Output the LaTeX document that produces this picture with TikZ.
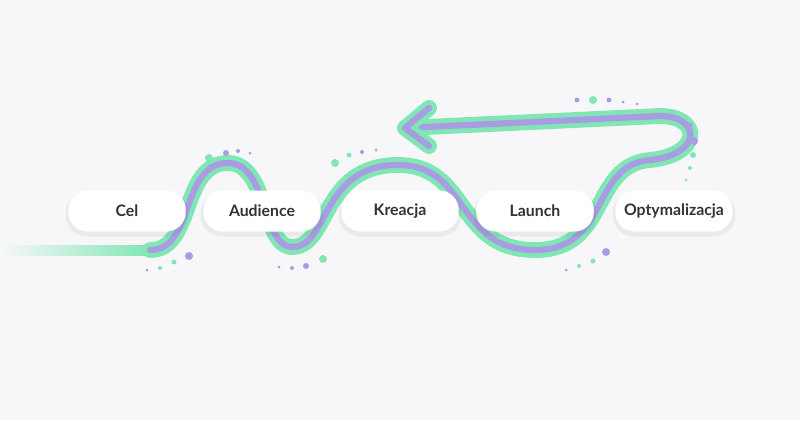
\documentclass[tikz,border=0pt]{standalone}
\usepackage{fontspec}
\setmainfont{Lato}
\definecolor{mint}{HTML}{7FE6B4}
\definecolor{lav}{HTML}{A89CE2}
\definecolor{bgc}{HTML}{F7F7FA}
\begin{document}
\begin{tikzpicture}[x=0.02cm, y=-0.02cm]
  \tikzset{
    step pill/.style={rounded corners=11pt, fill=white, minimum width=2.35cm, minimum height=0.82cm,
      font=\small\bfseries, text=black!80},
    pill shade/.style={rounded corners=12pt, fill=black, opacity=0.05, minimum width=2.45cm, minimum height=0.9cm},
    dotm/.style={fill=mint, draw=none},
    dotl/.style={fill=lav, draw=none}
  }
  \useasboundingbox (0,0) rectangle (800,420);
  \fill[bgc] (0,0) rectangle (800,420);
  \coordinate (start) at (0,250);
  \coordinate (tip) at (405,128);
  % fading lead-in
  \shade[left color=bgc, right color=mint] (0,245) rectangle (152,255);
  \def\wave{(150,250) .. controls (195,250) and (180,163) .. (228,163) .. controls (268,163) and (262,247) .. (292,247)
    .. controls (330,247) and (320,165) .. (398,165) .. controls (470,165) and (455,250) .. (535,250)
    .. controls (610,250) and (590,165) .. (650,160) .. controls (702,155) and (702,116) .. (660,116) -- (tip)}
  \draw[mint, line width=9pt, line cap=round, line join=round] \wave;
  \draw[lav, line width=3.5pt, line cap=round, line join=round] \wave;
  \draw[mint, line width=9pt, line cap=round, line join=round] (tip) ++(24,-20) -- (tip) -- ++(24,18);
  \draw[lav, line width=3.5pt, line cap=round, line join=round] (tip) ++(24,-20) -- (tip) -- ++(24,18);
  % pills
  \foreach \px in {127,262,400,535,674}
    \node[pill shade] at (\px,214) {};
  \node[step pill] (cel) at (127,211) {Cel};
  \node[step pill] (aud) at (262,211) {Audience};
  \node[step pill] (kre) at (400,211) {Kreacja};
  \node[step pill] (lau) at (535,211) {Launch};
  \node[step pill] (opt) at (674,211) {Optymalizacja};
  % sparkles
  \fill[dotm] (209,158) circle (4);
  \fill[dotl] (226,153) circle (3);
  \fill[dotl] (238,151) circle (2);
  \fill[dotl] (250,153) circle (1.5);
  \fill[dotm] (335,163) circle (4);
  \fill[dotm] (349,155) circle (2.5);
  \fill[dotl] (362,152) circle (2);
  \fill[dotl] (376,150) circle (1.5);
  \fill[dotl] (189,256) circle (4);
  \fill[dotm] (174,262) circle (2.5);
  \fill[dotm] (160,268) circle (2);
  \fill[dotl] (147,270) circle (1.5);
  \fill[dotm] (323,259) circle (4);
  \fill[dotl] (306,266) circle (3);
  \fill[dotl] (292,268) circle (2);
  \fill[dotl] (279,267) circle (1.5);
  \fill[dotl] (606,252) circle (4);
  \fill[dotm] (593,261) circle (2.5);
  \fill[dotm] (579,266) circle (2);
  \fill[dotl] (566,270) circle (1.5);
  \fill[dotm] (593,100) circle (4);
  \fill[dotl] (577,100) circle (2.5);
  \fill[dotl] (609,100) circle (2.5);
  \fill[dotl] (623,102) circle (1.5);
  \fill[dotl] (637,104) circle (1.5);
  \fill[dotl] (690,125) circle (2.5);
  \fill[dotl] (694,141) circle (4);
  \fill[dotm] (693,155) circle (3);
  \fill[dotm] (690,168) circle (2);
  \fill[dotm] (686,180) circle (1.5);
\end{tikzpicture}
\end{document}
